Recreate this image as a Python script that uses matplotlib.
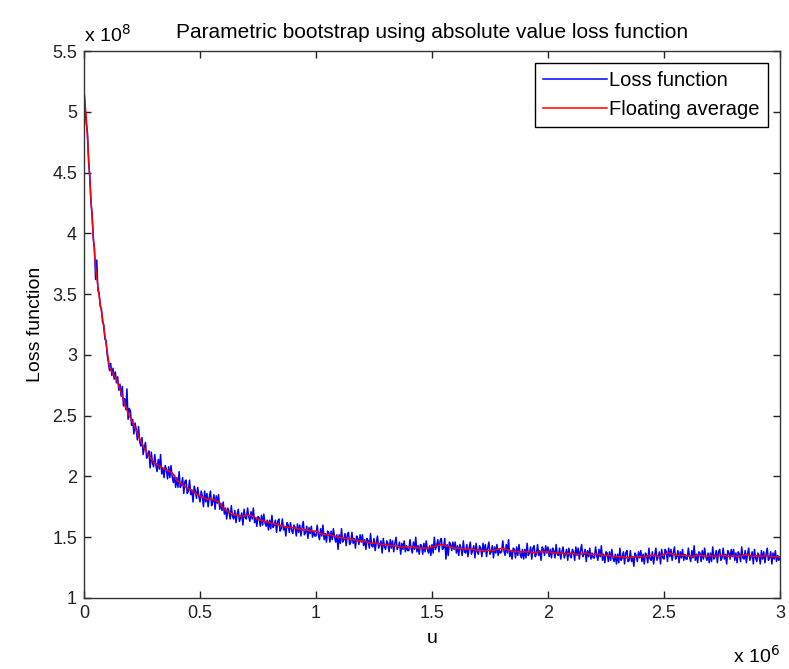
import numpy as np
import matplotlib
matplotlib.use("Agg")
import matplotlib.pyplot as plt

plt.rcParams['font.family'] = ['Liberation Sans', 'DejaVu Sans']

# Loss function (units of 1e8), sampled every 0.005e6 of u
loss = [
    5.19, 5.02, 4.90, 4.83, 4.58, 4.47, 4.25, 4.16, 3.95, 3.88, 3.62, 3.78, 3.53, 3.51, 3.40, 3.38, 3.27, 3.25, 3.13, 3.12,
    3.00, 2.94, 2.87, 2.93, 2.83, 2.89, 2.80, 2.86, 2.77, 2.82, 2.71, 2.76, 2.66, 2.74, 2.58, 2.64, 2.55, 2.72, 2.47, 2.56,
    2.54, 2.42, 2.47, 2.35, 2.44, 2.39, 2.30, 2.41, 2.29, 2.25, 2.32, 2.18, 2.24, 2.28, 2.15, 2.17, 2.21, 2.07, 2.20, 2.11,
    2.08, 2.18, 2.09, 2.04, 2.14, 2.06, 2.18, 2.02, 2.07, 1.99, 2.09, 2.06, 1.98, 2.08, 1.99, 2.09, 2.00, 1.95, 2.01, 1.91,
    1.99, 1.91, 2.04, 1.91, 1.93, 1.99, 1.86, 1.96, 1.97, 1.86, 1.88, 1.97, 1.85, 1.89, 1.79, 1.92, 1.88, 1.82, 1.91, 1.84,
    1.79, 1.88, 1.84, 1.75, 1.88, 1.79, 1.86, 1.75, 1.83, 1.88, 1.76, 1.79, 1.85, 1.73, 1.84, 1.78, 1.85, 1.73, 1.78, 1.72,
    1.79, 1.69, 1.74, 1.65, 1.74, 1.71, 1.65, 1.76, 1.67, 1.65, 1.72, 1.62, 1.69, 1.73, 1.63, 1.66, 1.70, 1.60, 1.73, 1.66,
    1.65, 1.74, 1.67, 1.63, 1.71, 1.65, 1.74, 1.62, 1.66, 1.59, 1.67, 1.66, 1.59, 1.68, 1.60, 1.69, 1.62, 1.59, 1.64, 1.56,
    1.64, 1.57, 1.68, 1.58, 1.60, 1.64, 1.54, 1.63, 1.65, 1.55, 1.57, 1.65, 1.56, 1.59, 1.51, 1.62, 1.60, 1.54, 1.62, 1.56,
    1.53, 1.60, 1.58, 1.51, 1.61, 1.54, 1.60, 1.51, 1.58, 1.63, 1.52, 1.54, 1.59, 1.49, 1.58, 1.53, 1.59, 1.50, 1.55, 1.51,
    1.51, 1.60, 1.52, 1.48, 1.57, 1.51, 1.60, 1.48, 1.53, 1.46, 1.55, 1.54, 1.46, 1.55, 1.48, 1.57, 1.50, 1.46, 1.52, 1.40,
    1.52, 1.45, 1.57, 1.46, 1.48, 1.53, 1.43, 1.52, 1.54, 1.44, 1.46, 1.54, 1.45, 1.49, 1.41, 1.51, 1.49, 1.44, 1.52, 1.46,
    1.52, 1.43, 1.48, 1.40, 1.49, 1.47, 1.41, 1.53, 1.43, 1.42, 1.49, 1.39, 1.46, 1.51, 1.41, 1.44, 1.47, 1.37, 1.49, 1.42,
    1.40, 1.47, 1.45, 1.38, 1.48, 1.41, 1.47, 1.38, 1.45, 1.50, 1.40, 1.42, 1.46, 1.36, 1.45, 1.40, 1.47, 1.38, 1.43, 1.39,
    1.39, 1.48, 1.41, 1.37, 1.46, 1.40, 1.50, 1.38, 1.43, 1.36, 1.44, 1.43, 1.36, 1.45, 1.38, 1.47, 1.40, 1.37, 1.43, 1.35,
    1.44, 1.37, 1.50, 1.40, 1.43, 1.48, 1.38, 1.47, 1.49, 1.40, 1.41, 1.49, 1.32, 1.44, 1.35, 1.46, 1.44, 1.39, 1.46, 1.40,
    1.46, 1.37, 1.43, 1.35, 1.44, 1.41, 1.35, 1.47, 1.38, 1.37, 1.44, 1.34, 1.41, 1.46, 1.36, 1.39, 1.43, 1.33, 1.45, 1.38,
    1.36, 1.43, 1.41, 1.34, 1.45, 1.38, 1.44, 1.34, 1.41, 1.46, 1.36, 1.38, 1.43, 1.33, 1.42, 1.37, 1.44, 1.35, 1.40, 1.37,
    1.38, 1.47, 1.39, 1.35, 1.44, 1.37, 1.48, 1.34, 1.39, 1.32, 1.41, 1.40, 1.33, 1.42, 1.35, 1.44, 1.36, 1.33, 1.40, 1.32,
    1.40, 1.33, 1.45, 1.35, 1.37, 1.42, 1.32, 1.41, 1.43, 1.34, 1.36, 1.44, 1.35, 1.39, 1.31, 1.42, 1.40, 1.35, 1.43, 1.37,
    1.42, 1.34, 1.40, 1.33, 1.41, 1.39, 1.33, 1.44, 1.36, 1.35, 1.41, 1.32, 1.38, 1.42, 1.33, 1.36, 1.40, 1.31, 1.41, 1.35,
    1.33, 1.40, 1.38, 1.31, 1.42, 1.35, 1.41, 1.32, 1.39, 1.44, 1.34, 1.36, 1.40, 1.30, 1.39, 1.34, 1.41, 1.32, 1.37, 1.33,
    1.33, 1.42, 1.35, 1.31, 1.40, 1.34, 1.43, 1.31, 1.36, 1.29, 1.38, 1.37, 1.30, 1.38, 1.31, 1.40, 1.33, 1.30, 1.36, 1.28,
    1.36, 1.29, 1.41, 1.31, 1.33, 1.38, 1.28, 1.37, 1.39, 1.30, 1.31, 1.39, 1.30, 1.34, 1.26, 1.37, 1.35, 1.30, 1.38, 1.33,
    1.39, 1.30, 1.36, 1.28, 1.37, 1.35, 1.29, 1.41, 1.32, 1.31, 1.38, 1.28, 1.35, 1.41, 1.31, 1.34, 1.38, 1.28, 1.40, 1.33,
    1.32, 1.40, 1.38, 1.30, 1.41, 1.34, 1.40, 1.31, 1.37, 1.42, 1.32, 1.34, 1.39, 1.29, 1.38, 1.33, 1.40, 1.31, 1.36, 1.32,
    1.32, 1.41, 1.34, 1.30, 1.39, 1.33, 1.43, 1.31, 1.36, 1.29, 1.38, 1.37, 1.30, 1.39, 1.32, 1.41, 1.34, 1.31, 1.37, 1.29,
    1.37, 1.30, 1.42, 1.32, 1.34, 1.39, 1.29, 1.38, 1.40, 1.31, 1.33, 1.41, 1.32, 1.36, 1.28, 1.39, 1.37, 1.32, 1.40, 1.34,
    1.40, 1.31, 1.37, 1.29, 1.38, 1.36, 1.30, 1.42, 1.33, 1.32, 1.39, 1.29, 1.36, 1.41, 1.31, 1.34, 1.38, 1.28, 1.40, 1.33,
    1.30, 1.37, 1.35, 1.28, 1.39, 1.32, 1.38, 1.29, 1.36, 1.41, 1.31, 1.33, 1.38, 1.28, 1.37, 1.32, 1.39, 1.30, 1.35, 1.31,
    1.33,
]
loss_u = np.arange(len(loss)) * 0.005

# Floating average (units of 1e8)
avg_u = np.concatenate([np.arange(0, 0.195, 0.01), np.arange(0.20, 3.0001, 0.02)])
avg = [
    5.16, 4.95, 4.62, 4.28, 3.98, 3.72, 3.56, 3.42, 3.30, 3.16,
    3.03, 2.90, 2.86, 2.83, 2.80, 2.75, 2.69, 2.63, 2.57, 2.52,
    2.48, 2.40, 2.31, 2.23, 2.17, 2.12, 2.09, 2.07, 2.05, 2.03,
    1.97, 1.94, 1.91, 1.89, 1.86, 1.84, 1.82, 1.81, 1.81, 1.79,
    1.74, 1.71, 1.69, 1.68, 1.67, 1.68, 1.68, 1.66, 1.64, 1.63,
    1.62, 1.61, 1.60, 1.59, 1.58, 1.58, 1.57, 1.56, 1.56, 1.55,
    1.55, 1.53, 1.52, 1.52, 1.51, 1.50, 1.49, 1.49, 1.48, 1.47,
    1.47, 1.46, 1.45, 1.45, 1.44, 1.44, 1.43, 1.43, 1.42, 1.42,
    1.42, 1.42, 1.41, 1.41, 1.41, 1.42, 1.43, 1.44, 1.43, 1.42,
    1.41, 1.41, 1.40, 1.40, 1.40, 1.39, 1.39, 1.39, 1.39, 1.40,
    1.41, 1.40, 1.39, 1.38, 1.38, 1.38, 1.38, 1.37, 1.38, 1.38,
    1.38, 1.37, 1.37, 1.37, 1.36, 1.37, 1.36, 1.36, 1.37, 1.36,
    1.36, 1.36, 1.35, 1.35, 1.34, 1.34, 1.34, 1.33, 1.34, 1.34,
    1.34, 1.34, 1.35, 1.35, 1.34, 1.36, 1.37, 1.36, 1.35, 1.35,
    1.35, 1.34, 1.35, 1.35, 1.34, 1.35, 1.34, 1.35, 1.35, 1.34,
    1.35, 1.34, 1.35, 1.36, 1.34, 1.35, 1.34, 1.35, 1.34, 1.34,
    1.34,
]

xticks = [0, 0.5, 1, 1.5, 2, 2.5, 3]
xticklabels = ['0', '0.5', '1', '1.5', '2', '2.5', '3']
yticks = [1, 1.5, 2, 2.5, 3, 3.5, 4, 4.5, 5, 5.5]
yticklabels = ['1', '1.5', '2', '2.5', '3', '3.5', '4', '4.5', '5', '5.5']

fig = plt.figure(figsize=(7.89, 6.69), dpi=100)
ax = fig.add_axes([84/789, 71/669, 696/789, 547/669])

ax.plot(loss_u, loss, color=(0, 0, 1), lw=1.1, label='Loss function')
ax.plot(avg_u, avg, color=(1, 0, 0), lw=1.1, label='Floating average')

ax.set_xlim(0, 3)
ax.set_ylim(1, 5.5)
ax.set_xticks(xticks)
ax.set_xticklabels(xticklabels)
ax.set_yticks(yticks)
ax.set_yticklabels(yticklabels)
ax.tick_params(direction='in', length=5, width=1, top=True, right=True,
               labelsize=13, pad=5, colors='#222222')
for s in ax.spines.values():
    s.set_linewidth(1.0)
    s.set_color('#333333')

ax.set_xlabel('u', fontsize=14, labelpad=6)
ax.set_ylabel('Loss function', fontsize=14, labelpad=6)
ax.set_title('Parametric bootstrap using absolute value loss function',
             fontsize=15, pad=9)

ax.text(0.0, 1.01, r'x 10$^{8}$', transform=ax.transAxes, fontsize=14,
        ha='left', va='bottom')
ax.text(1.0, -0.085, r'x 10$^{6}$', transform=ax.transAxes, fontsize=14,
        ha='right', va='top')

leg = ax.legend(loc='upper right', fontsize=14.5, fancybox=False, framealpha=1,
                edgecolor='black', handlelength=3.2, borderaxespad=0.6,
                handletextpad=0.1, borderpad=0.4, labelspacing=0.5)
leg.get_frame().set_linewidth(1.0)

fig.savefig('out.png', dpi=100)
